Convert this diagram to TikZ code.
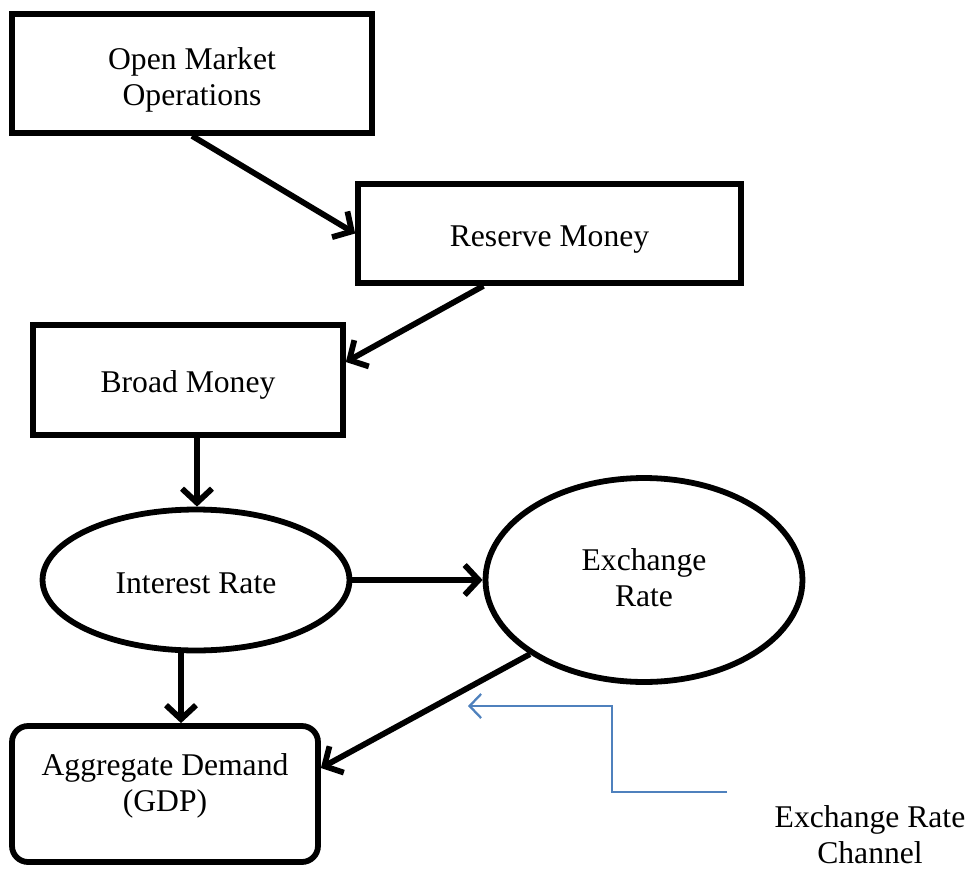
\documentclass[tikz,border=0pt]{standalone}
\usepackage{fontspec}
\setmainfont{Liberation Serif}
\usetikzlibrary{shapes.geometric,arrows.meta,calc}

\begin{document}
\begin{tikzpicture}[x=0.02cm,y=-0.02cm,
                    every node/.style={font=\fontsize{18}{20.5}\selectfont,align=center,inner sep=0pt},
                    block/.style={draw,line width=3.3pt,rectangle},
                    oval/.style={draw,line width=3.3pt,ellipse},
                    arr/.style={line width=3.3pt,-{Straight Barb[length=2.8mm,width=6mm]}},
                    chanarr/.style={line width=1.3pt,draw={rgb,255:red,79;green,129;blue,189},-{Straight Barb[length=2.3mm,width=4.8mm]}}
]
\useasboundingbox (0,0) rectangle (971,869);

% Draw the boxes
\node [block,minimum width=7.2cm,minimum height=2.38cm,
       label={[yshift=-3.4pt]center:Open Market\\Operations}] at (192,73.5) (omo) {};
\node [block,minimum width=7.66cm,minimum height=1.98cm,
       label={[yshift=-3.4pt]center:Reserve Money}] at (549.5,233.5) (res) {};
\node [block,minimum width=6.2cm,minimum height=2.2cm,
       label={[yshift=-2.8pt]center:Broad Money}] at (188,380) (broad) {};
\node [block,rounded corners=0.32cm,minimum width=6.12cm,minimum height=2.72cm,
       label={[yshift=4.5pt]center:Aggregate Demand\\(GDP)}] at (165,794) (agg) {};

% Draw the ellipses
\node [oval,minimum width=6.14cm,minimum height=2.82cm,
       label={[yshift=-1.7pt]center:Interest Rate}] at (196,580) (int) {};
\node [oval,minimum width=6.34cm,minimum height=4.08cm,
       label={[yshift=1.1pt]center:Exchange\\Rate}] at (644,580) (exr) {};

% Channel label
\node at (870,835) (chan) {Exchange Rate\\Channel};

% Money arrows
\draw[arr] (omo.south) -- (res.west);
\draw[arr] ($(res.south west)!0.33!(res.south east)$) -- ($(broad.east)+(0,-18)$);
\draw[arr] ($(broad.south)+(9,0)$) coordinate (b1) -- (b1 |- int.north);

% Interest rate arrows
\draw[arr] (int.east) -- (exr.west);
\draw[arr] ($(int.south)+(-15,0)$) coordinate (i1) -- (i1 |- agg.north);

% Exchange rate to demand
\draw[arr] (exr.south west) -- ($(agg.east)+(0,-26)$);

% Channel pointer
\coordinate (c1) at (727,792);
\coordinate (c2) at (468,706);
\draw[chanarr] (c1) -- ++(-115,0) |- (c2);

\end{tikzpicture}
\end{document}
